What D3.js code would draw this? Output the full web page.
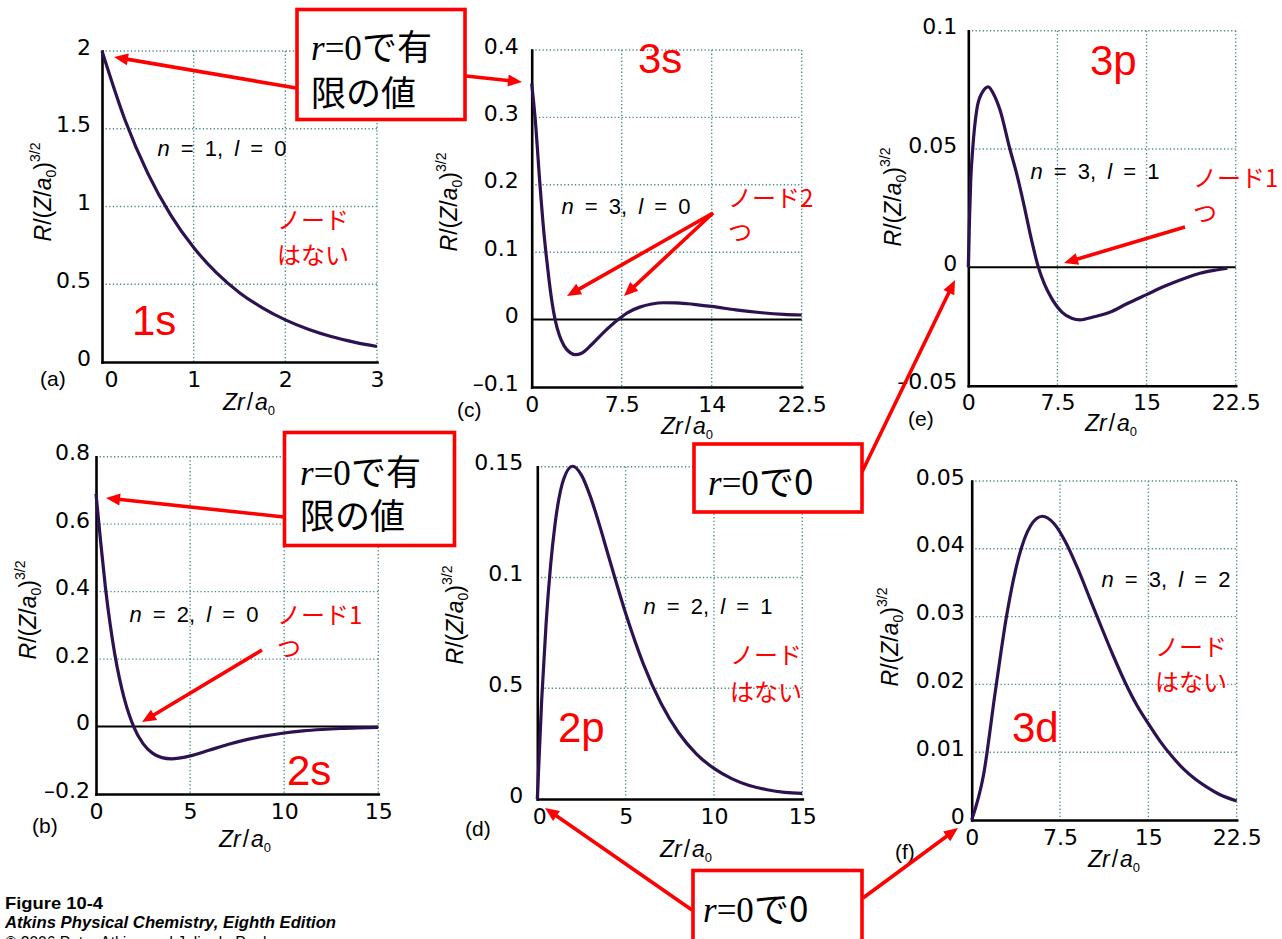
<!DOCTYPE html>
<html><head><meta charset="utf-8">
<script src="https://cdn.jsdelivr.net/npm/d3@7"></script>
<style>body{margin:0;background:#fff}svg{display:block}</style>
</head><body>
<svg id="chart" width="1282" height="939"></svg>
<script>
// ---------------- data ----------------
const x1s = [0,0.25,0.5,0.75,1,1.25,1.5,1.75,2,2.25,2.5,2.75,3];
const r1s = [2,1.558,1.213,0.945,0.736,0.573,0.446,0.348,0.271,0.211,0.164,0.128,0.0996];

const x2s = [0,0.25,0.5,0.75,1,1.25,1.5,1.75,2,2.5,3,3.5,4,5,6,7,8,9,10,11,12,13,14,15];
const r2s = [0.69,0.546,0.413,0.304,0.214,0.142,0.0835,0.0369,0,-0.0507,-0.0789,-0.0922,-0.0957,-0.0871,-0.0704,-0.0534,-0.0389,-0.0275,-0.0191,-0.013,-0.0088,-0.0058,-0.0039,-0.0025];

const x3s = [0,0.28,0.69,1.0,1.2,1.45,1.7,1.95,2.3,2.7,3.2,3.6,4.2,5,6,7.2,8,9,10,11,12,13,14,15,17,19,21,22.5];
const r3s = [0.35,0.3,0.2,0.132,0.097,0.058,0.025,0,-0.023,-0.039,-0.049,-0.052,-0.0495,-0.037,-0.019,0,0.0105,0.0185,0.0232,0.025,0.0248,0.0235,0.0215,0.0195,0.0145,0.0105,0.0078,0.0068];

const x2p = [0,0.25,0.5,0.75,1,1.5,2,2.5,3,3.5,4,5,6,7,8,9,10,11,12,13,14,15];
const r2p = [0,0.045,0.0795,0.1052,0.1238,0.1446,0.1502,0.1462,0.1366,0.1242,0.1105,0.0838,0.061,0.0432,0.0299,0.0204,0.0138,0.0092,0.0061,0.0042,0.003,0.0025];

const x3p = [0,0.1,0.2,0.37,0.71,1.13,1.68,2.1,2.67,3.5,4.1,4.7,5.3,5.9,6.4,7.0,7.9,8.7,9.4,10.5,11.9,13.3,15,16.5,18,19.5,21,21.8];
const r3p = [0,0.02,0.036,0.05,0.0665,0.0735,0.0763,0.0735,0.0665,0.05,0.039,0.026,0.012,0,-0.007,-0.013,-0.019,-0.0215,-0.0222,-0.021,-0.019,-0.0155,-0.0115,-0.008,-0.005,-0.0025,-0.001,-0.0003];

const x3d = [0,1,2,3,4,5,6,7,8,9,10,11,12,13,14,15,16,17,18,19,20,21,22.5];
const r3d = [0,0.0066,0.0189,0.0305,0.0388,0.0434,0.0448,0.0437,0.0409,0.0371,0.0328,0.0285,0.0243,0.0204,0.017,0.0142,0.0116,0.0094,0.0075,0.006,0.0048,0.0038,0.0028];

// ticks and tick labels
const xTicks1s = [0,1,2,3];            const xLabels1s = ["0","1","2","3"];
const yTicks1s = [0,0.5,1,1.5,2];      const yLabels1s = ["0","0.5","1","1.5","2"];
const xTicks2s = [0,5,10,15];          const xLabels2s = ["0","5","10","15"];
const yTicks2s = [-0.2,0,0.2,0.4,0.6,0.8]; const yLabels2s = ["–0.2","0","0.2","0.4","0.6","0.8"];
const xTicks3s = [0,7.5,15,22.5];      const xLabels3s = ["0","7.5","14","22.5"];
const yTicks3s = [-0.1,0,0.1,0.2,0.3,0.4]; const yLabels3s = ["–0.1","0","0.1","0.2","0.3","0.4"];
const xTicks2p = [0,5,10,15];          const xLabels2p = ["0","5","10","15"];
const yTicks2p = [0,0.05,0.1,0.15];    const yLabels2p = ["0","0.5","0.1","0.15"];
const xTicks3p = [0,7.5,15,22.5];      const xLabels3p = ["0","7.5","15","22.5"];
const yTicks3p = [-0.05,0,0.05,0.1];   const yLabels3p = ["–0.05","0","0.05","0.1"];
const xTicks3d = [0,7.5,15,22.5];      const xLabels3d = ["0","7.5","15","22.5"];
const yTicks3d = [0,0.01,0.02,0.03,0.04,0.05]; const yLabels3d = ["0","0.01","0.02","0.03","0.04","0.05"];

const quantumLabels = [["1","0"],["2","0"],["3","0"],["2","1"],["3","1"],["3","2"]];
const orbitalNames = ["1s","2s","3s","2p","3p","3d"];
const panelTags = ["(a)","(b)","(c)","(d)","(e)","(f)"];

// ---------------- styling ----------------
const curveColor = "#2c1250";
const red = "#ff0000";
const gridColor = "#4f8a88";
const tickFont = "'DejaVu Sans', sans-serif";
const sansFont = "'Liberation Sans', Arial, sans-serif";
const cjkFont = "'Noto Sans CJK JP', sans-serif";
const serifFont = "'Liberation Serif', 'DejaVu Serif', serif";

const svg = d3.select("#chart");
svg.append("rect").attr("width",1282).attr("height",939).attr("fill","#fff");

const panels = [
  {xs:x1s, ys:r1s, xDom:[0,3], yDom:[0,2], xT:xTicks1s, xL:xLabels1s, yT:yTicks1s, yL:yLabels1s,
   L:102, R:377, T:51, B:362, yPad:11, x0dx:9, tag:[40,386], xt:[249,410], yt:[43,192], q:0, qpos:[222,156], name:0, npos:[132,335]},
  {xs:x2s, ys:r2s, xDom:[0,15], yDom:[-0.2,0.8], xT:xTicks2s, xL:xLabels2s, yT:yTicks2s, yL:yLabels2s,
   L:96, R:378.3, T:456.7, B:794, yPad:6, x0dx:0, tag:[32,833], xt:[245,847], yt:[28,610], q:1, qpos:[194,622], name:1, npos:[287,785]},
  {xs:x3s, ys:r3s, xDom:[0,22.5], yDom:[-0.1,0.4], xT:xTicks3s, xL:xLabels3s, yT:yTicks3s, yL:yLabels3s,
   L:531.7, R:801.7, T:50, B:387, yPad:13, x0dx:0, tag:[457,417], xt:[687,434], yt:[449,202], q:2, qpos:[626,214], name:2, npos:[638,73]},
  {xs:x2p, ys:r2p, xDom:[0,15], yDom:[0,0.15], xT:xTicks2p, xL:xLabels2p, yT:yTicks2p, yL:yLabels2p,
   L:537.3, R:802.3, T:466.7, B:799, yPad:14, x0dx:2, tag:[465,836], xt:[686,857], yt:[455,615], q:3, qpos:[708,614], name:3, npos:[558,742]},
  {xs:x3p, ys:r3p, xDom:[0,22.5], yDom:[-0.05,0.1], xT:xTicks3p, xL:xLabels3p, yT:yTicks3p, yL:yLabels3p,
   L:968.3, R:1235.7, T:30.7, B:385.7, yPad:11, x0dx:0, tag:[908,426], xt:[1111,431], yt:[893,197], q:4, qpos:[1095,179], name:4, npos:[1090,75]},
  {xs:x3d, ys:r3d, xDom:[0,22.5], yDom:[0,0.05], xT:xTicks3d, xL:xLabels3d, yT:yTicks3d, yL:yLabels3d,
   L:971.7, R:1236.7, T:481, B:820, yPad:7, x0dx:0, tag:[895,859], xt:[1114,867], yt:[890,637], q:5, qpos:[1166,587], name:5, npos:[1012,742]}
];

function drawPanel(p){
  const g = svg.append("g");
  const x = d3.scaleLinear().domain(p.xDom).range([p.L,p.R]);
  const y = d3.scaleLinear().domain(p.yDom).range([p.B,p.T]);

  // dotted grid
  g.selectAll("line.gx").data(p.xT.filter(v=>v!==p.xDom[0])).join("line").attr("class","gx")
    .attr("x1",d=>x(d)).attr("x2",d=>x(d)).attr("y1",p.T).attr("y2",p.B)
    .attr("stroke",gridColor).attr("stroke-width",1.4).attr("stroke-dasharray","1.3,2.3");
  g.selectAll("line.gy").data(p.yT.filter(v=>v!==p.yDom[0] && v!==0)).join("line").attr("class","gy")
    .attr("x1",p.L).attr("x2",p.R).attr("y1",d=>y(d)).attr("y2",d=>y(d))
    .attr("stroke",gridColor).attr("stroke-width",1.4).attr("stroke-dasharray","1.3,2.3");

  // zero line
  if (p.yDom[0] < 0) {
    g.append("line").attr("x1",p.L).attr("x2",p.R).attr("y1",y(0)).attr("y2",y(0))
      .attr("stroke","#000").attr("stroke-width",2);
  }

  // axes
  const ax = d3.axisBottom(x).tickValues(p.xT).tickFormat((d,i)=>p.xL[i]).tickSize(0).tickSizeOuter(0).tickPadding(9);
  const gx = g.append("g").attr("transform",`translate(0,${p.B})`).call(ax);
  gx.select(".domain").attr("stroke","#000").attr("stroke-width",2.6).attr("stroke-linecap","square");
  gx.selectAll("text").attr("font-family",tickFont).attr("font-size",22).attr("fill","#000")
    .attr("dx",(d,i)=> i===0 ? p.x0dx : 0);

  const ay = d3.axisLeft(y).tickValues(p.yT).tickFormat((d,i)=>p.yL[i]).tickSize(0).tickSizeOuter(0).tickPadding(p.yPad);
  const gy = g.append("g").attr("transform",`translate(${p.L},0)`).call(ay);
  gy.select(".domain").attr("stroke","#000").attr("stroke-width",2.6).attr("stroke-linecap","square");
  gy.selectAll("text").attr("font-family",tickFont).attr("font-size",22).attr("fill","#000").attr("dy","0.14em");

  // curve
  const pts = p.xs.map((v,i)=>[v,p.ys[i]]);
  g.append("path").datum(pts)
    .attr("d", d3.line().x(d=>x(d[0])).y(d=>y(d[1])).curve(d3.curveMonotoneX))
    .attr("fill","none").attr("stroke",curveColor).attr("stroke-width",3.2).attr("stroke-linejoin","round");

  // panel tag
  g.append("text").attr("x",p.tag[0]).attr("y",p.tag[1]).attr("font-family",sansFont)
    .attr("font-size",21).text(panelTags[p.q]);

  // x title
  const xt = g.append("text").attr("x",p.xt[0]).attr("y",p.xt[1]).attr("text-anchor","middle")
    .attr("font-family",sansFont).attr("font-size",23);
  xt.append("tspan").attr("font-style","italic").text("Zr");
  xt.append("tspan").attr("dx",2).text("/");
  xt.append("tspan").attr("dx",2).attr("font-style","italic").text("a");
  xt.append("tspan").attr("font-size",13).attr("dy",5).text("0");

  // y title
  const yt = g.append("text").attr("transform",`translate(${p.yt[0]+8},${p.yt[1]}) rotate(-90)`)
    .attr("text-anchor","middle").attr("font-family",sansFont).attr("font-size",23);
  yt.append("tspan").attr("font-style","italic").text("R");
  yt.append("tspan").text("/(");
  yt.append("tspan").attr("font-style","italic").text("Z");
  yt.append("tspan").text("/");
  yt.append("tspan").attr("font-style","italic").text("a");
  yt.append("tspan").attr("font-size",14).attr("dy",5).text("0");
  yt.append("tspan").attr("dy",-5).text(")");
  yt.append("tspan").attr("font-size",14).attr("dy",-11).text("3/2");

  // n, l label
  const ql = quantumLabels[p.q];
  const qt = g.append("text").attr("x",p.qpos[0]).attr("y",p.qpos[1]).attr("text-anchor","middle")
    .attr("font-family",sansFont).attr("font-size",22).attr("word-spacing",5);
  qt.append("tspan").attr("font-style","italic").text("n");
  qt.append("tspan").text(` = ${ql[0]}, `);
  qt.append("tspan").attr("font-style","italic").text("l");
  qt.append("tspan").text(` = ${ql[1]}`);

  // orbital name
  g.append("text").attr("x",p.npos[0]).attr("y",p.npos[1]).attr("font-family",sansFont)
    .attr("font-size",42).attr("fill",red).text(orbitalNames[p.name]);
}
panels.forEach(drawPanel);

// ---------------- red annotations ----------------
const notes = [
  ["ノード",277,229],["はない",277,264],
  ["ノード2",728,207],["つ",728,241],
  ["ノード1",1193,187],["つ",1193,222],
  ["ノード1",277,624],["つ",277,657],
  ["ノード",730,664],["はない",730,701],
  ["ノード",1155,656],["はない",1155,691]
];
svg.selectAll("text.note").data(notes).join("text").attr("class","note")
  .attr("x",d=>d[1]).attr("y",d=>d[2]).attr("font-family",cjkFont).attr("font-size",24)
  .attr("fill",red).text(d=>d[0]);

function arrow(x1,y1,x2,y2){
  const dx=x2-x1, dy=y2-y1, len=Math.hypot(dx,dy), ux=dx/len, uy=dy/len;
  const hl=14, hw=6;
  svg.append("line").attr("x1",x1).attr("y1",y1).attr("x2",x2-ux*hl*0.7).attr("y2",y2-uy*hl*0.7)
    .attr("stroke",red).attr("stroke-width",3.6);
  const bx=x2-ux*hl, by=y2-uy*hl;
  svg.append("polygon").attr("points",`${x2},${y2} ${bx-uy*hw},${by+ux*hw} ${bx+uy*hw},${by-ux*hw}`).attr("fill",red);
}
const arrows = [
  [296,88,114,57],[466,76,522,82],
  [713,213,567,296],[713,213,624,296],
  [1185,227,1064,263],
  [284,517,106,498],[262,650,142,722],
  [862,472,955,280],
  [692,910,545,808],[863,898,958,828]
];
arrows.forEach(a=>arrow(...a));

// boxes
const boxes = [
  {x:297,y:9.5,w:168,h:110,lines:[["r","=0","で有"],[null,null,"限の値"]],tx:311,ty:[60,106]},
  {x:284.5,y:432.5,w:170,h:113,lines:[["r","=0","で有"],[null,null,"限の値"]],tx:300,ty:[485,529]},
  {x:694,y:444,w:168,h:68,lines:[["r","=0","で0"]],tx:708,ty:[495]},
  {x:693,y:870.5,w:169,h:90,lines:[["r","=0","で0"]],tx:703,ty:[922]}
];
boxes.forEach(b=>{
  svg.append("rect").attr("x",b.x).attr("y",b.y).attr("width",b.w).attr("height",b.h)
    .attr("fill","#fff").attr("stroke",red).attr("stroke-width",3.6);
  b.lines.forEach((ln,i)=>{
    const t = svg.append("text").attr("x",b.tx).attr("y",b.ty[i]).attr("font-size",35).attr("fill","#000")
      .attr("font-family",serifFont);
    if (ln[0]) t.append("tspan").attr("font-family",serifFont).attr("font-style","italic").text(ln[0]);
    if (ln[1]) t.append("tspan").attr("font-family",serifFont).text(ln[1]);
    t.append("tspan").attr("font-family",cjkFont).text(ln[2]);
  });
});

// footer
const narrow = "'Liberation Sans Narrow', 'Liberation Sans', sans-serif";
svg.append("text").attr("x",5).attr("y",909).attr("font-family",narrow).attr("font-weight","bold")
  .attr("font-size",17).attr("textLength",98).attr("lengthAdjust","spacingAndGlyphs").text("Figure 10-4");
svg.append("text").attr("x",5).attr("y",928).attr("font-family",narrow).attr("font-weight","bold")
  .attr("font-style","italic").attr("font-size",17).attr("textLength",331).attr("lengthAdjust","spacingAndGlyphs")
  .text("Atkins Physical Chemistry, Eighth Edition");
svg.append("text").attr("x",5).attr("y",948).attr("font-family",narrow)
  .attr("font-size",17).attr("textLength",270).attr("lengthAdjust","spacingAndGlyphs")
  .text("© 2006 Peter Atkins and Julio de Paula");
</script>
</body></html>
